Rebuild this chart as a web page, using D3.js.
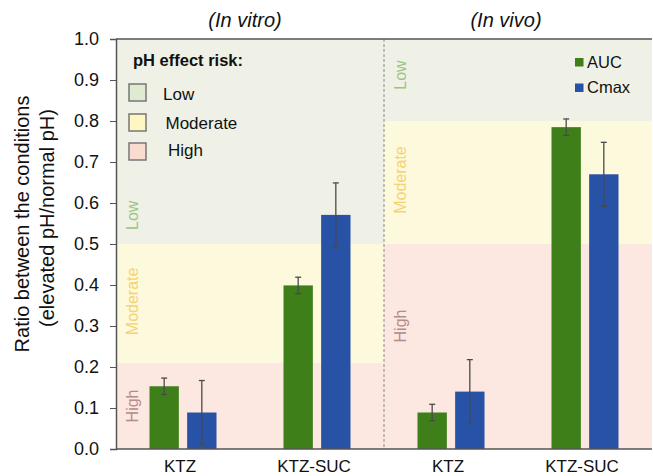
<!DOCTYPE html>
<html>
<head>
<meta charset="utf-8">
<script src="https://cdn.jsdelivr.net/npm/d3@7"></script>
<style>
  body { margin: 0; background: #fff; }
  svg { display: block; font-family: "Liberation Sans", Arial, sans-serif; }
</style>
</head>
<body>
<div id="chart"></div>
<script>
// data
const groupKeys = ["vitroKTZ", "vitroSUC", "vivoKTZ", "vivoSUC"];
const groupLabels = ["KTZ", "KTZ-SUC", "KTZ", "KTZ-SUC"];
const seriesNames = ["AUC", "Cmax"];
const aucValues = [0.153, 0.399, 0.089, 0.785];
const aucErrors = [0.02, 0.02, 0.02, 0.02];
const cmaxValues = [0.089, 0.571, 0.14, 0.67];
const cmaxErrors = [0.078, 0.078, 0.078, 0.078];
const yTicks = [0, 0.1, 0.2, 0.3, 0.4, 0.5, 0.6, 0.7, 0.8, 0.9, 1.0];
const riskNames = ["High", "Moderate", "Low"];
const vitroLimits = [0, 0.21, 0.5, 1.0];
const vivoLimits = [0, 0.5, 0.8, 1.0];
// where the rotated zone names sit (ratio units)
const vitroLabelAt = [0.105, 0.36, 0.57];
const vivoLabelAt = [0.30, 0.656, 0.912];
const panelTitles = ["(In vitro)", "(In vivo)"];

render();

function render() {
    const W = 653, H = 476;
    const left = 116, right = 652, top = 39, bottom = 449;

    const zoneFill = {High: "#fce8e0", Moderate: "#fdf9dc", Low: "#eff1e7"};
    const swatchFill = {High: "#f8dcd0", Moderate: "#fff6c2", Low: "#dfeacf"};
    const zoneText = {High: "#b48a8a", Moderate: "#f5d370", Low: "#9cc585"};
    const seriesColor = {AUC: "#3e7f1a", Cmax: "#2752a6"};

    const svg = d3.select("#chart").append("svg")
        .attr("width", W)
        .attr("height", H);

    const y = d3.scaleLinear().domain([0, 1]).range([bottom, top]);

    const x0 = d3.scaleBand()
        .domain(groupKeys)
        .range([left, right])
        .paddingInner(0.5)
        .paddingOuter(0.25);

    const x1 = d3.scaleBand()
        .domain(seriesNames)
        .range([0, x0.bandwidth()])
        .paddingInner(0.22);

    const divider = (x0("vitroSUC") + x0.bandwidth() + x0("vivoKTZ")) / 2;

    // risk zones
    const panels = [
        {x0: left + 1, x1: divider, limits: vitroLimits, labelAt: vitroLabelAt, labelX: 138},
        {x0: divider, x1: right, limits: vivoLimits, labelAt: vivoLabelAt, labelX: 406}
    ];
    panels.forEach(p => {
        riskNames.forEach((name, i) => {
            const lo = p.limits[i], hi = p.limits[i + 1];
            svg.append("rect")
                .attr("x", p.x0)
                .attr("y", y(hi))
                .attr("width", p.x1 - p.x0)
                .attr("height", y(lo) - y(hi))
                .attr("fill", zoneFill[name]);
            svg.append("text")
                .attr("transform", `translate(${p.labelX},${y(p.labelAt[i])}) rotate(-90)`)
                .attr("text-anchor", "middle")
                .style("font-size", "16px")
                .attr("fill", zoneText[name])
                .text(name);
        });
    });

    // panel divider
    svg.append("line")
        .attr("x1", divider).attr("x2", divider)
        .attr("y1", top).attr("y2", bottom)
        .attr("stroke", "#8a8a8a")
        .attr("stroke-width", 1)
        .attr("stroke-dasharray", "3,2");

    // bars
    const rows = groupKeys.map((k, i) => ({
        key: k,
        bars: [
            {name: "AUC", value: aucValues[i], err: aucErrors[i]},
            {name: "Cmax", value: cmaxValues[i], err: cmaxErrors[i]}
        ]
    }));

    const g = svg.selectAll(".group")
        .data(rows)
        .enter().append("g")
        .attr("class", "group")
        .attr("transform", d => `translate(${x0(d.key)},0)`);

    g.selectAll("rect")
        .data(d => d.bars)
        .enter().append("rect")
        .attr("x", d => x1(d.name))
        .attr("y", d => y(d.value))
        .attr("width", x1.bandwidth())
        .attr("height", d => y(0) - y(d.value))
        .attr("fill", d => seriesColor[d.name]);

    const eb = g.selectAll(".err")
        .data(d => d.bars)
        .enter().append("g")
        .attr("class", "err")
        .attr("stroke", "#4a4a4a")
        .attr("stroke-width", 1.3);
    eb.append("line")
        .attr("x1", d => x1(d.name) + x1.bandwidth() / 2)
        .attr("x2", d => x1(d.name) + x1.bandwidth() / 2)
        .attr("y1", d => y(d.value + d.err))
        .attr("y2", d => y(d.value - d.err));
    [1, -1].forEach(s => {
        eb.append("line")
            .attr("x1", d => x1(d.name) + x1.bandwidth() / 2 - 3)
            .attr("x2", d => x1(d.name) + x1.bandwidth() / 2 + 3)
            .attr("y1", d => y(d.value + s * d.err))
            .attr("y2", d => y(d.value + s * d.err));
    });

    // axes
    const yAxis = d3.axisLeft(y)
        .tickValues(yTicks)
        .tickFormat(d3.format(".1f"))
        .tickSize(6)
        .tickPadding(11);
    const ya = svg.append("g")
        .attr("transform", `translate(${left},0)`)
        .call(yAxis);
    ya.select(".domain").attr("stroke", "#555").attr("stroke-width", 1.5);
    ya.selectAll(".tick line").attr("stroke", "#555");
    ya.selectAll(".tick text")
        .style("font-size", "18px")
        .attr("fill", "#111");

    const xAxis = d3.axisBottom(x0)
        .tickSize(0)
        .tickPadding(11)
        .tickFormat((d, i) => groupLabels[i]);
    const xa = svg.append("g")
        .attr("transform", `translate(-3,${bottom})`)
        .call(xAxis);
    xa.select(".domain").remove();
    xa.selectAll(".tick text")
        .style("font-size", "17px")
        .attr("fill", "#111");

    svg.append("line")
        .attr("x1", left).attr("x2", right)
        .attr("y1", bottom).attr("y2", bottom)
        .attr("stroke", "#555").attr("stroke-width", 1.5);
    svg.append("line")
        .attr("x1", left).attr("x2", right)
        .attr("y1", top).attr("y2", top)
        .attr("stroke", "#555").attr("stroke-width", 1.5);

    // y title
    svg.append("text")
        .attr("transform", `translate(29,224) rotate(-90)`)
        .attr("text-anchor", "middle")
        .style("font-size", "20px")
        .attr("fill", "#111")
        .text("Ratio between the conditions");
    svg.append("text")
        .attr("transform", `translate(54,218) rotate(-90)`)
        .attr("text-anchor", "middle")
        .style("font-size", "20px")
        .attr("fill", "#111")
        .text("(elevated pH/normal pH)");

    // panel titles
    [[left, divider], [divider, right]].forEach((ext, i) => {
        svg.append("text")
            .attr("x", (ext[0] + ext[1]) / 2 - 5 + (i == 1 ? -7 : 0))
            .attr("y", 27)
            .attr("text-anchor", "middle")
            .style("font-size", "20px")
            .style("font-style", "italic")
            .attr("fill", "#111")
            .text(panelTitles[i]);
    });

    // risk legend
    svg.append("text")
        .attr("x", 133).attr("y", 66)
        .style("font-size", "16.5px")
        .style("font-weight", "bold")
        .attr("fill", "#111")
        .text("pH effect risk:");
    const riskLegend = ["Low", "Moderate", "High"];
    const legendTops = [84, 114, 143];
    const legendBase = [100, 129, 156];
    riskLegend.forEach((name, i) => {
        svg.append("rect")
            .attr("x", 129).attr("y", legendTops[i])
            .attr("width", 17).attr("height", 17)
            .attr("fill", swatchFill[name])
            .attr("stroke", "#777")
            .attr("stroke-width", 1.5);
        svg.append("text")
            .attr("x", 163 + i * 2.5).attr("y", legendBase[i])
            .style("font-size", "17px")
            .attr("fill", "#111")
            .text(name);
    });

    // series legend
    seriesNames.forEach((name, i) => {
        const yy = 58 + i * 25.5;
        svg.append("rect")
            .attr("x", 575).attr("y", yy)
            .attr("width", 8.5).attr("height", 8.5)
            .attr("fill", seriesColor[name]);
        svg.append("text")
            .attr("x", 587).attr("y", yy + 9.5)
            .style("font-size", "16.5px")
            .attr("fill", "#111")
            .text(name);
    });
}
</script>
</body>
</html>
